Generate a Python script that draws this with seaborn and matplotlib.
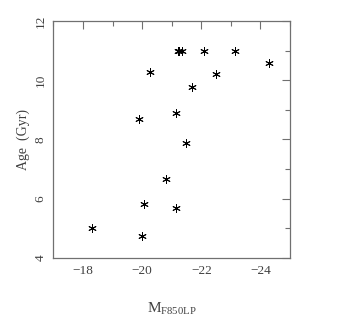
import matplotlib
matplotlib.use("Agg")
import matplotlib.pyplot as plt
import seaborn as sns
import pandas as pd
from matplotlib.ticker import MultipleLocator

mag = [-18.30, -20.00, -20.06, -21.13, -20.82, -21.47, -19.89, -21.15, -21.67,
       -20.28, -22.50, -24.28, -21.20, -21.26, -21.35, -22.10, -23.15]
age = [5.00, 4.75, 5.82, 5.68, 6.68, 7.87, 8.69, 8.88, 9.76,
       10.29, 10.22, 10.57, 11.00, 11.00, 11.00, 11.00, 11.00]
x_ticks = [-18, -20, -22, -24]
y_ticks = [4, 6, 8, 10, 12]

df = pd.DataFrame({"mag": mag, "age": age})

sns.set_style("white")
plt.rcParams["font.family"] = ["Liberation Serif", "DejaVu Serif"]
plt.rcParams["mathtext.fontset"] = "custom"
plt.rcParams["mathtext.rm"] = "Liberation Serif"
grey = "#707070"

fig = plt.figure(figsize=(3.49, 3.27), dpi=100)
ax = fig.add_axes([0.153, 0.211, 0.678, 0.725])

sns.scatterplot(data=df, x="mag", y="age", ax=ax, marker=(6, 2, 0), s=30,
                color="black", linewidth=0.7, edgecolor="black")

ax.set_xlim(-17, -25)
ax.set_ylim(4, 12)
ax.set_xticks(x_ticks)
ax.set_yticks(y_ticks)
ax.set_xticklabels([f"\u2212{abs(v)}" for v in x_ticks])
ax.set_yticklabels([str(v) for v in y_ticks], rotation=90, va="center")
ax.xaxis.set_minor_locator(MultipleLocator(1))
ax.yaxis.set_minor_locator(MultipleLocator(1))
ax.tick_params(which="both", direction="in", top=True, right=True,
               color=grey, width=0.8, labelcolor="#404040", labelsize=9.5)
ax.tick_params(which="major", length=6, pad=5)
ax.tick_params(which="minor", length=3.5)
for s in ax.spines.values():
    s.set_color(grey)
    s.set_linewidth(0.9)
    s.set_visible(True)

ax.set_xlabel(r"M$_{\mathrm{F850LP}}$", color="#404040", fontsize=11, labelpad=17)
ax.set_ylabel("Age  (Gyr)", color="#404040", fontsize=10, labelpad=3)

fig.savefig("out.png", dpi=100)
